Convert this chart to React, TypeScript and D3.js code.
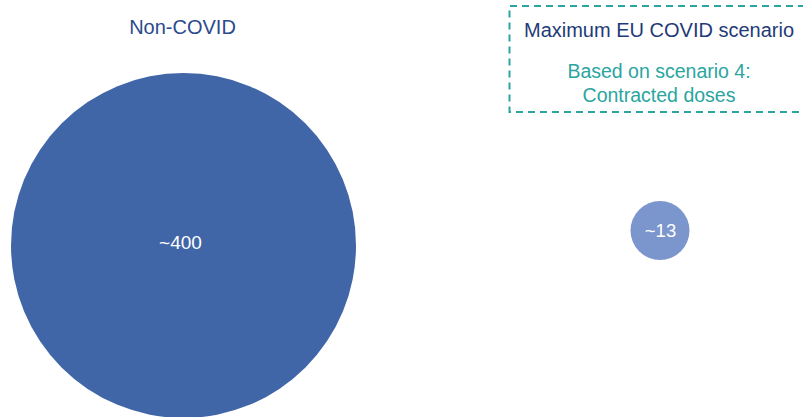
import React from "react";
import * as d3 from "d3";

const categories = ["Non-COVID", "Maximum EU COVID scenario"];
const values = [400, 13];
const valueLabels = ["~400", "~13"];
const subtitleLines = ["Based on scenario 4:", "Contracted doses"];

const W = 803;
const H = 417;

export default function App() {
  const r = d3.scaleSqrt().domain([0, 400]).range([0, 172.5]);
  const centers = [
    { x: 183.5, y: 245.5 },
    { x: 660, y: 230.5 },
  ];
  const labelPos = [
    { x: 180.5, y: 242, size: 19 },
    { x: 660.5, y: 230.5, size: 18.5 },
  ];
  const fills = ["#4066a8", "#7b96cc"];
  const font = "Liberation Sans, Arial, sans-serif";
  return (
    <svg
      width={W}
      height={H}
      style={{ position: "absolute", left: 0, top: 0, display: "block" }}
      fontFamily={font}
    >
      <rect x={0} y={0} width={W} height={H} fill="#ffffff" />
      {values.map((v, i) => (
        <g key={i}>
          <circle cx={centers[i].x} cy={centers[i].y} r={i === 1 ? 29.5 : r(v)} fill={fills[i]} />
          <text
            x={labelPos[i].x}
            y={labelPos[i].y}
            dy="0.35em"
            textAnchor="middle"
            fill="#ffffff"
            fontSize={labelPos[i].size}
          >
            {valueLabels[i]}
          </text>
        </g>
      ))}
      <text x={182.5} y={34} textAnchor="middle" fill="#2b4a8c" fontSize={20}>
        {categories[0]}
      </text>
      <path
        d={`M ${W + 2} 6 H 509.5 V 112 H ${W + 2}`}
        fill="none"
        stroke="#2aa5a0"
        strokeWidth={2}
        strokeDasharray="7 5"
      />
      <text x={659} y={37} textAnchor="middle" fill="#1f3a78" fontSize={20}>
        {categories[1]}
      </text>
      {subtitleLines.map((t, i) => (
        <text
          key={i}
          x={659}
          y={78 + i * 24}
          textAnchor="middle"
          fill="#2aa5a0"
          fontSize={19.5}
        >
          {t}
        </text>
      ))}
    </svg>
  );
}
